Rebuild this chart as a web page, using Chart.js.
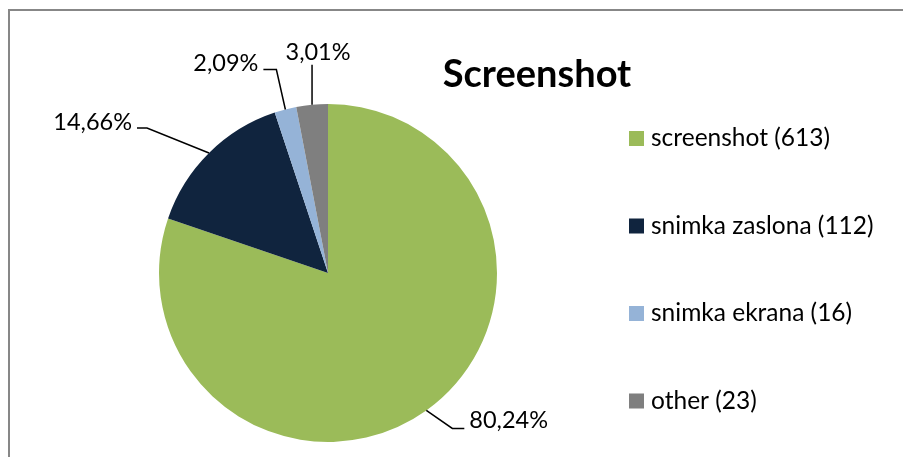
<!DOCTYPE html>
<html>
<head>
<meta charset="utf-8">
<script src="https://cdn.jsdelivr.net/npm/chart.js@4.4.0/dist/chart.umd.min.js"></script>
<style>
    html, body { margin: 0; padding: 0; background: #fff; }
    #wrap { position: relative; width: 903px; height: 457px; }
</style>
</head>
<body>
<div id="wrap"><canvas id="pie"></canvas></div>
<script>
// Chart data
const categories = ['screenshot', 'snimka zaslona', 'snimka ekrana', 'other'];
const counts = [613, 112, 16, 23];
const sliceColors = ['#9BBB59', '#10243E', '#95B3D7', '#7F7F7F'];
const chartTitle = 'Screenshot';

const total = counts.reduce((a, b) => a + b, 0);
const percentLabels = counts.map(v => (v / total * 100).toFixed(2).replace('.', ',') + '%');

// Leader line layout: elbow offset from slice edge, then horizontal run
const leaderLayout = [
    { dx: 26, dy: 18, run: 12 },
    { dx: -62, dy: -25, run: -10 },
    { dx: -9, dy: -40, run: -13 },
    { dx: 0, dy: -40, run: 0 }
];
const fontFamily = 'Lato, "Open Sans", sans-serif';

// Sheet frame (top and left edge)
const framePlugin = {
    id: 'frame',
    beforeDraw(chart) {
        const ctx = chart.ctx;
        ctx.save();
        ctx.strokeStyle = '#878787';
        ctx.lineWidth = 2;
        ctx.beginPath();
        ctx.moveTo(9, chart.height);
        ctx.lineTo(9, 10);
        ctx.lineTo(chart.width, 10);
        ctx.stroke();
        ctx.restore();
    }
};

// Percentage labels with leader lines
const leaderPlugin = {
    id: 'leaders',
    afterDatasetsDraw(chart) {
        const ctx = chart.ctx;
        const arcs = chart.getDatasetMeta(0).data;
        ctx.save();
        ctx.strokeStyle = '#000';
        ctx.fillStyle = '#000';
        ctx.lineWidth = 1.5;
        ctx.font = '23.5px ' + fontFamily;
        arcs.forEach((arc, i) => {
            const mid = (arc.startAngle + arc.endAngle) / 2;
            const x0 = arc.x + Math.cos(mid) * arc.outerRadius;
            const y0 = arc.y + Math.sin(mid) * arc.outerRadius;
            const lay = leaderLayout[i];
            const x1 = x0 + lay.dx, y1 = y0 + lay.dy;
            const x2 = x1 + lay.run;
            ctx.beginPath();
            ctx.moveTo(x0, y0);
            ctx.lineTo(x1, y1);
            ctx.lineTo(x2, y1);
            ctx.stroke();
            ctx.textBaseline = 'alphabetic';
            if (lay.run > 0) {
                ctx.textAlign = 'left';
                ctx.fillText(percentLabels[i], x2 + 5, y1);
            } else if (lay.run < 0) {
                ctx.textAlign = 'right';
                ctx.fillText(percentLabels[i], x2 - 5, y1 + 2);
            } else {
                ctx.textAlign = 'center';
                ctx.fillText(percentLabels[i], x2 + 6, y1 - 5);
            }
        });
        ctx.restore();
    }
};

// Title and legend on the right
const sidePlugin = {
    id: 'side',
    afterDraw(chart) {
        const ctx = chart.ctx;
        ctx.save();
        ctx.fillStyle = '#000';
        ctx.textBaseline = 'alphabetic';
        ctx.textAlign = 'center';
        ctx.font = 'bold 38px ' + fontFamily;
        ctx.fillText(chartTitle, 537, 87);

        ctx.textAlign = 'left';
        ctx.font = '24.5px ' + fontFamily;
        categories.forEach((name, i) => {
            const yb = 146 + i * 87.5;
            ctx.fillStyle = sliceColors[i];
            ctx.fillRect(629, yb - 15, 15, 15);
            ctx.fillStyle = '#000';
            ctx.fillText(name + ' (' + counts[i] + ')', 651, yb);
        });
        ctx.restore();
    }
};

const ctx = document.getElementById('pie').getContext('2d');
new Chart(ctx, {
    type: 'pie',
    data: {
        labels: categories,
        datasets: [{
            data: counts,
            backgroundColor: sliceColors,
            borderWidth: 0
        }]
    },
    options: {
        responsive: true,
        maintainAspectRatio: false,
        animation: false,
        layout: {
            padding: { left: 159, right: 406, top: 104, bottom: 15 }
        },
        plugins: {
            legend: { display: false },
            title: { display: false },
            tooltip: { enabled: false }
        }
    },
    plugins: [framePlugin, leaderPlugin, sidePlugin]
});
</script>
</body>
</html>
